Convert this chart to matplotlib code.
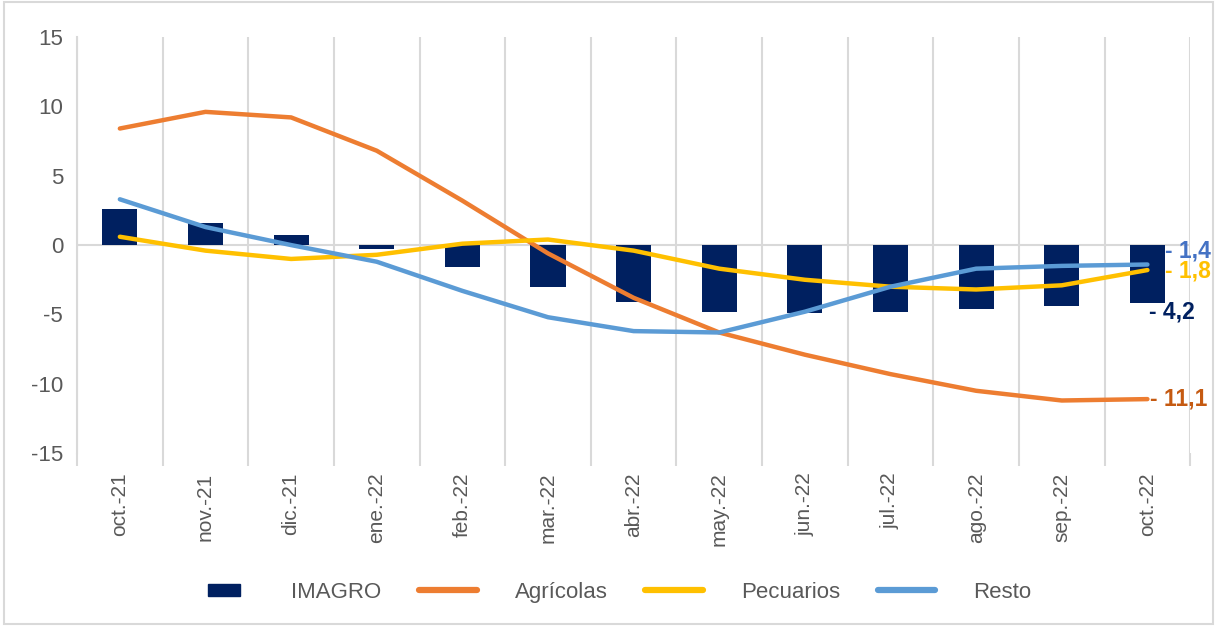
import numpy as np
import matplotlib.pyplot as plt
from matplotlib.patches import Rectangle
from matplotlib.lines import Line2D
from matplotlib.legend_handler import HandlerPatch

plt.rcParams['font.family'] = ['Liberation Sans', 'DejaVu Sans']
plt.rcParams['axes.unicode_minus'] = False

months = ["oct.-21", "nov.-21", "dic.-21", "ene.-22", "feb.-22", "mar.-22", "abr.-22",
          "may.-22", "jun.-22", "jul.-22", "ago.-22", "sep.-22", "oct.-22"]
imagro = [2.6, 1.6, 0.7, -0.3, -1.6, -3.0, -4.1, -4.8, -4.9, -4.8, -4.6, -4.4, -4.2]
agricolas = [8.4, 9.6, 9.2, 6.8, 3.2, -0.6, -3.8, -6.3, -7.9, -9.3, -10.5, -11.2, -11.1]
pecuarios = [0.6, -0.4, -1.0, -0.7, 0.1, 0.4, -0.4, -1.7, -2.5, -3.0, -3.2, -2.9, -1.8]
resto = [3.3, 1.3, 0.0, -1.2, -3.3, -5.2, -6.2, -6.3, -4.8, -3.0, -1.7, -1.5, -1.4]

navy = "#002060"
orange = "#ED7D31"
yellow = "#FFC000"
blue = "#5B9BD5"
grid = "#D9D9D9"
txt = "#595959"

fig = plt.figure(figsize=(12.17, 6.26), dpi=100)
ax = fig.add_axes([0.0633, 0.276, 0.9147, 0.665])

x = np.arange(len(months))
bars = ax.bar(x, imagro, width=0.41, color=navy, label="IMAGRO", zorder=2)
l1, = ax.plot(x, agricolas, color=orange, lw=3.2, solid_capstyle="round", label="Agrícolas", zorder=3)
l2, = ax.plot(x, pecuarios, color=yellow, lw=3.2, solid_capstyle="round", label="Pecuarios", zorder=4)
l3, = ax.plot(x, resto, color=blue, lw=3.2, solid_capstyle="round", label="Resto", zorder=5)

ax.set_xlim(-0.5, len(months) - 0.5)
ax.set_ylim(-15, 15)
ax.set_yticks(np.arange(-15, 16, 5))
ax.set_xticks(x)
ax.set_xticklabels(months, rotation=90)
ax.set_xticks(np.arange(-0.5, len(months), 1), minor=True)
ax.tick_params(axis="x", which="major", length=0, pad=14, labelsize=15, labelcolor=txt)
ax.tick_params(axis="x", which="minor", length=9, color=grid, width=1.5)
ax.tick_params(axis="y", length=0, pad=10, labelsize=16, labelcolor=txt)
ax.grid(axis="x", which="minor", color=grid, lw=1.5, zorder=0)
ax.axhline(0, color=grid, lw=1.5, zorder=1)
for s in ["top", "right", "bottom"]:
    ax.spines[s].set_visible(False)
ax.spines["left"].set_color(grid)
ax.spines["left"].set_linewidth(1.5)

# end labels
last = len(months) - 1
ax.annotate("- 1,4", (last, resto[-1]), xytext=(13, 10), textcoords="offset points",
            color="#4472C4", fontsize=16.5, fontweight="bold", va="center")
ax.annotate("- 1,8", (last, pecuarios[-1]), xytext=(13, -1), textcoords="offset points",
            color=yellow, fontsize=16.5, fontweight="bold", va="center")
ax.annotate("- 4,2", (last, imagro[-1]), xytext=(1, -6), textcoords="offset points",
            color=navy, fontsize=16.5, fontweight="bold", va="center")
ax.annotate("- 11,1", (last, agricolas[-1]), xytext=(2, 0), textcoords="offset points",
            color="#C55A11", fontsize=16.5, fontweight="bold", va="center")


def small_box(legend, orig_handle, xdescent, ydescent, width, height, fontsize):
    w = width * 0.55
    h = 8.6
    return Rectangle((-xdescent + (width - w) / 2, -ydescent + (height - h) / 2), w, h)


handles = [Rectangle((0, 0), 1, 1, color=navy),
           Line2D([], [], color=orange, lw=4.5, solid_capstyle="round"),
           Line2D([], [], color=yellow, lw=4.5, solid_capstyle="round"),
           Line2D([], [], color=blue, lw=4.5, solid_capstyle="round")]
labels = ["IMAGRO", "Agrícolas", "Pecuarios", "Resto"]
leg = fig.legend(handles, labels, loc="center", bbox_to_anchor=(0.504, 0.054), ncol=4,
                 frameon=False, fontsize=16, handlelength=2.6, handletextpad=1.7,
                 columnspacing=1.7, handler_map={Rectangle: HandlerPatch(patch_func=small_box)})
for t in leg.get_texts():
    t.set_color(txt)

fig.patches.append(Rectangle((0.003, 0.003), 0.994, 0.994, transform=fig.transFigure,
                             fill=False, edgecolor=grid, lw=1.5))

fig.savefig("out.png", dpi=100)
